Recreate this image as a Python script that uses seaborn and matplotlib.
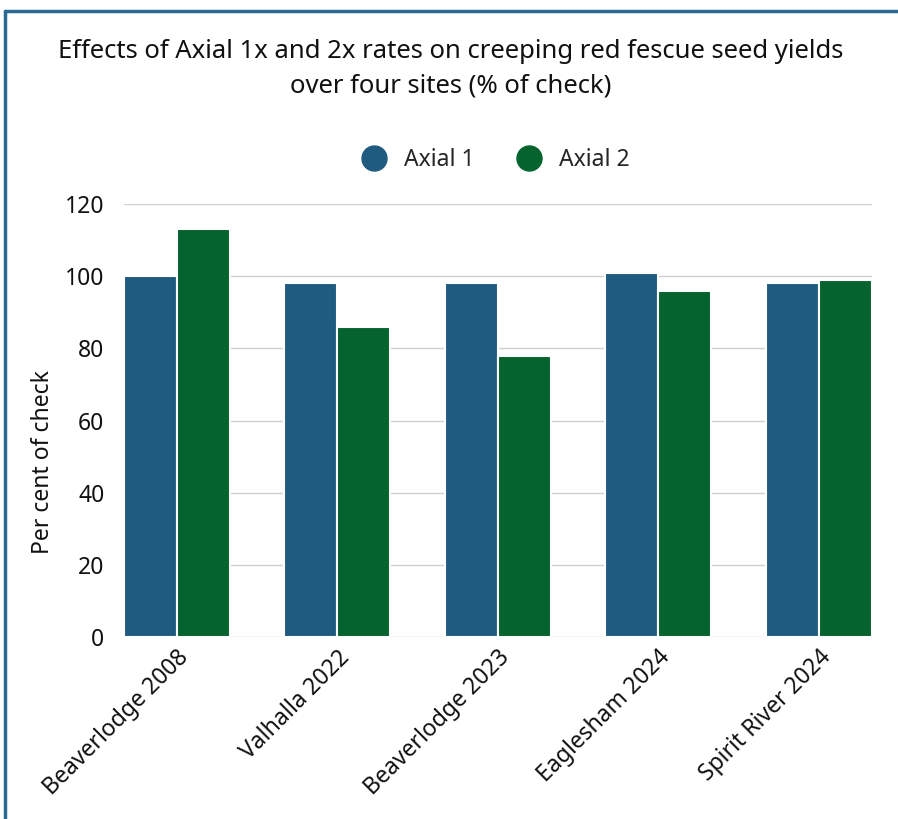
import pandas as pd
import seaborn as sns
import matplotlib.pyplot as plt
from matplotlib.lines import Line2D

sites = ['Beaverlodge 2008', 'Valhalla 2022', 'Beaverlodge 2023', 'Eaglesham 2024', 'Spirit River 2024']
axial_1 = [100, 98, 98, 101, 98]
axial_2 = [113, 86, 78, 96, 99]
series = ['Axial 1', 'Axial 2']
colors = ['#1f5b80', '#05632e']

df = pd.DataFrame({'site': sites * 2,
                   'value': axial_1 + axial_2,
                   'series': [series[0]] * len(sites) + [series[1]] * len(sites)})

sns.set_theme(style='white')
plt.rcParams['font.family'] = ['Noto Sans', 'DejaVu Sans']

fig = plt.figure(figsize=(8.98, 8.19), dpi=100)
ax = fig.add_axes([0.138, 0.222, 0.833, 0.529])

sns.barplot(data=df, x='site', y='value', hue='series', palette=colors,
            width=0.66, edgecolor='white', linewidth=1.5, saturation=1, ax=ax)

ax.set_ylim(0, 120)
ax.set_xlim(-0.33, 4.33)
ax.set_yticks([0, 20, 40, 60, 80, 100, 120])
ax.yaxis.grid(True, color='#d0d0d0', linewidth=1)
ax.set_axisbelow(True)
for s in ['top', 'right', 'left', 'bottom']:
    ax.spines[s].set_visible(False)
ax.tick_params(axis='y', labelsize=16.5, length=0, pad=14, colors='#111111')
ax.tick_params(axis='x', labelsize=16.5, length=0, pad=6, colors='#111111')
plt.setp(ax.get_xticklabels(), rotation=45, ha='right', rotation_mode='anchor')
ax.set_xlabel('')
ax.set_ylabel('Per cent of check', fontsize=16.5, color='#111111')
ax.yaxis.set_label_coords(-0.092, 0.404)

handles = [Line2D([], [], marker='o', linestyle='', markersize=18, color=c) for c in colors]
ax.legend(handles, series, loc='center', bbox_to_anchor=(0.49, 1.102), ncol=2,
          frameon=False, fontsize=16.5, handletextpad=0.3, columnspacing=1.4)

fig.text(0.502, 0.916, 'Effects of Axial 1x and 2x rates on creeping red fescue seed yields\nover four sites (% of check)',
         ha='center', va='center', fontsize=18.5, linespacing=1.5, color='#111111')

# frame lines on the left and top
fig.add_artist(Line2D([0.006, 0.006], [0.0, 0.987], color='#2a6a90', linewidth=2.5, transform=fig.transFigure))
fig.add_artist(Line2D([0.006, 1.0], [0.987, 0.987], color='#2a6a90', linewidth=2.5, transform=fig.transFigure))

plt.savefig('out.png', dpi=100)
plt.close()
